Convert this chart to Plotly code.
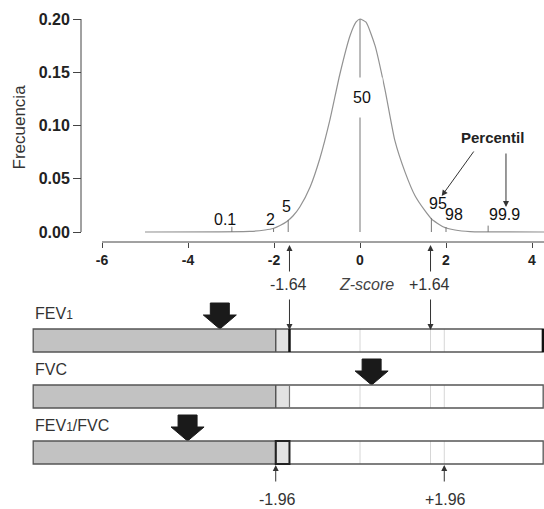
import plotly.graph_objects as go

W, H = 544, 509

# ---- data ----
# normal-like curve (z-score vs frequency)
curve_z = [-5.0, -2.56, -2.21, -2.02, -1.86, -1.70, -1.56, -1.40, -1.16, -0.93, -0.70,
           -0.47, -0.23, -0.09, 0.0, 0.14, 0.35, 0.58, 0.81, 1.05, 1.28, 1.51, 1.67,
           1.93, 2.21, 2.56, 4.28]
curve_f = [0.0, 0.0005, 0.0019, 0.0033, 0.0061, 0.0099, 0.0150, 0.0235, 0.0423, 0.0695,
           0.1052, 0.1479, 0.1845, 0.1972, 0.2, 0.197, 0.175, 0.134, 0.086, 0.056, 0.034,
           0.020, 0.012, 0.005, 0.0019, 0.0004, 0.0]

# percentile markers
pct_labels = ["0.1", "2", "5", "50", "95", "98", "99.9"]
pct_z = [-2.98, -2.01, -1.67, 0.0, 1.66, 2.00, 2.98]
pct_h = [0.005, 0.0035, 0.0113, 0.2, 0.0131, 0.0047, 0.006]
pct_label_z = [-3.14, -2.09, -1.70, 0.04, 1.81, 2.19, 3.37]
pct_label_f = [0.0122, 0.0122, 0.0235, 0.126, 0.0272, 0.016, 0.016]

# axis ticks
x_ticks = [-6, -4, -2, 0, 2, 4]
x_ticktext = ["-6", "-4", "-2", "0", "2", "4"]
y_ticks = [0.0, 0.05, 0.10, 0.15, 0.20]
y_ticktext = ["0.00", "0.05", "0.10", "0.15", "0.20"]

# spirometry rows
row_names = ["FEV<span style='font-size:12px'>1</span>", "FVC",
             "FEV<span style='font-size:12px'>1</span>/FVC"]
row_arrow_z = [-3.26, 0.27, -4.01]
lln_low, lln_high = -1.96, -1.64          # LLN thresholds
ref_lines = [0.0, 1.64, 1.96]             # faint reference lines
bar_start_z, bar_end_z = -7.6, 4.26

# ---- layout geometry (pixels) ----
XMIN, XMAX = -360 / 43, (W - 360) / 43     # 43 px per z unit, z=0 at px 360
PX = W / (XMAX - XMIN)
Y0PX, Y20PX = 232, 19
FPX = (Y0PX - Y20PX) / 0.2
YMIN, YMAX = -(H - Y0PX) / FPX, 0.2 + Y20PX / FPX
AXIS_PX = 242
row_top = [329, 385, 441]
BAR_H = 23

FONT = "Arial, Liberation Sans, sans-serif"
fig = go.Figure()

# curve
fig.add_trace(go.Scatter(x=curve_z, y=curve_f, mode="lines",
                         line=dict(color="#929292", width=1.2, shape="spline", smoothing=0.5),
                         hoverinfo="skip", showlegend=False))
# percentile lines
lx, ly = [], []
for z, h in zip(pct_z, pct_h):
    lx += [z, z, None]
    ly += [0, h, None]
fig.add_trace(go.Scatter(x=lx, y=ly, mode="lines", line=dict(color="#777777", width=1),
                         hoverinfo="skip", showlegend=False))

annotations = []
for lab, z, f in zip(pct_labels, pct_label_z, pct_label_f):
    annotations.append(dict(x=z, y=f, xref="x", yref="y", text=lab, showarrow=False,
                            font=dict(family=FONT, size=16, color="#111"),
                            bgcolor="white" if lab == "50" else None,
                            borderpad=11 if lab == "50" else 0))

# Percentil label + arrows
annotations.append(dict(x=3.07, y=(Y0PX - 137) / FPX, xref="x", yref="y", text="<b>Percentil</b>",
                        showarrow=False, font=dict(family=FONT, size=15, color="#222")))
for tip, tail in [((1.90, 196), (2.67, 150)), ((3.395, 207), (3.395, 152))]:
    annotations.append(dict(x=tip[0], y=tip[1], xref="x", yref="y2", ax=tail[0], ay=tail[1],
                            axref="x", ayref="y2", text="", showarrow=True, arrowhead=2,
                            arrowsize=1.2, arrowwidth=1, arrowcolor="#333"))

# axis label
annotations.append(dict(x=0.15, y=284, xref="x", yref="y2", text="<i>Z-score</i>", showarrow=False,
                        font=dict(family=FONT, size=16, color="#444")))
annotations.append(dict(x=18.5 / W, y=127, xref="paper", yref="y2", text="Frecuencia", textangle=-90,
                        xanchor="center", yanchor="middle",
                        showarrow=False, font=dict(family=FONT, size=17, color="#333")))

# +-1.64 labels and arrows
for z, lab in [(-1.64, "-1.64"), (1.64, "+1.64")]:
    annotations.append(dict(x=z - 0.03, y=284, xref="x", yref="y2", text=lab, showarrow=False,
                            font=dict(family=FONT, size=16, color="#333")))
    annotations.append(dict(x=z, y=245, xref="x", yref="y2", ax=z, ay=273, axref="x", ayref="y2",
                            text="", showarrow=True, arrowhead=2, arrowsize=1.2, arrowwidth=1,
                            arrowcolor="#333"))
    annotations.append(dict(x=z, y=row_top[0] + 1, xref="x", yref="y2", ax=z, ay=298, axref="x",
                            ayref="y2", text="", showarrow=True, arrowhead=2, arrowsize=1.2,
                            arrowwidth=1, arrowcolor="#333"))
# +-1.96 labels and arrows
for z, lab in [(-1.96, "-1.96"), (1.96, "+1.96")]:
    annotations.append(dict(x=z + 0.03, y=499, xref="x", yref="y2", text=lab, showarrow=False,
                            font=dict(family=FONT, size=16, color="#333")))
    annotations.append(dict(x=z, y=row_top[2] + BAR_H + 1, xref="x", yref="y2", ax=z, ay=483,
                            axref="x", ayref="y2", text="", showarrow=True, arrowhead=2,
                            arrowsize=1.2, arrowwidth=1, arrowcolor="#333"))

shapes = []
# x axis line and y axis line
shapes.append(dict(type="line", xref="x", yref="y2", x0=x_ticks[0], x1=XMAX, y0=AXIS_PX, y1=AXIS_PX,
                   line=dict(color="#444", width=1)))
shapes.append(dict(type="line", xref="paper", yref="y", x0=81 / W, x1=81 / W, y0=0, y1=0.2,
                   line=dict(color="#444", width=1)))

# bars
for i, (name, az) in enumerate(zip(row_names, row_arrow_z)):
    t = row_top[i]
    b = t + BAR_H
    shapes.append(dict(type="rect", xref="x", yref="y2", x0=bar_start_z, x1=lln_low, y0=t, y1=b,
                       fillcolor="#c2c2c2", line=dict(width=0)))
    shapes.append(dict(type="rect", xref="x", yref="y2", x0=lln_low, x1=lln_high, y0=t, y1=b,
                       fillcolor="#e2e2e2", line=dict(width=0)))
    shapes.append(dict(type="rect", xref="x", yref="y2", x0=lln_high, x1=bar_end_z, y0=t, y1=b,
                       fillcolor="white", line=dict(width=0)))
    for rz in ref_lines:
        shapes.append(dict(type="line", xref="x", yref="y2", x0=rz, x1=rz, y0=t, y1=b,
                           line=dict(color="#d6d6d6", width=1)))
    shapes.append(dict(type="rect", xref="x", yref="y2", x0=bar_start_z, x1=bar_end_z, y0=t, y1=b,
                       line=dict(color="#555", width=1.3)))
    shapes.append(dict(type="line", xref="x", yref="y2", x0=lln_low, x1=lln_low, y0=t, y1=b,
                       line=dict(color="#555", width=1.5)))
    if i == 0:
        shapes.append(dict(type="line", xref="x", yref="y2", x0=lln_high, x1=lln_high, y0=t, y1=b,
                           line=dict(color="#111", width=2.5)))
        shapes.append(dict(type="line", xref="x", yref="y2", x0=bar_end_z, x1=bar_end_z, y0=t, y1=b,
                           line=dict(color="#111", width=3)))
    elif i == 1:
        shapes.append(dict(type="line", xref="x", yref="y2", x0=lln_high, x1=lln_high, y0=t, y1=b,
                           line=dict(color="#777", width=1.2)))
    else:
        shapes.append(dict(type="rect", xref="x", yref="y2", x0=lln_low, x1=lln_high, y0=t, y1=b,
                           line=dict(color="#222", width=2)))
    annotations.append(dict(x=33 / W, y=t - 16, xref="paper", yref="y2", text=name, xanchor="left",
                            showarrow=False, font=dict(family=FONT, size=16, color="#333")))
    # big arrow
    sx, hx = 9.5 / PX, 16.5 / PX
    tip = t
    ax_ = [az - sx, az + sx, az + sx, az + hx, az, az - hx, az - sx, az - sx]
    ay_ = [tip - 26, tip - 26, tip - 14, tip - 14, tip, tip - 14, tip - 14, tip - 26]
    fig.add_trace(go.Scatter(x=ax_, y=ay_, yaxis="y2", mode="lines", fill="toself",
                             fillcolor="#1a1a1a", line=dict(color="#1a1a1a", width=1),
                             hoverinfo="skip", showlegend=False))

fig.update_layout(
    width=W, height=H, margin=dict(l=0, r=0, t=0, b=0),
    paper_bgcolor="white", plot_bgcolor="white", showlegend=False,
    xaxis=dict(range=[XMIN, XMAX], domain=[0, 1], anchor="free", position=1 - AXIS_PX / H,
               tickvals=x_ticks, ticktext=x_ticktext, ticks="outside", ticklen=5, tickcolor="#444",
               showgrid=False, zeroline=False, showline=False,
               tickfont=dict(family=FONT, size=14, color="#222", weight="bold")),
    yaxis=dict(range=[YMIN, YMAX], domain=[0, 1], anchor="free", position=81 / W,
               tickvals=y_ticks, ticktext=y_ticktext, ticks="outside", ticklen=8, tickcolor="#444",
               showgrid=False, zeroline=False, showline=False,
               tickfont=dict(family=FONT, size=16, color="#222", weight="bold")),
    yaxis2=dict(range=[H, 0], overlaying="y", visible=False, anchor="x"),
    shapes=shapes, annotations=annotations,
)
fig.write_html("out.html")
